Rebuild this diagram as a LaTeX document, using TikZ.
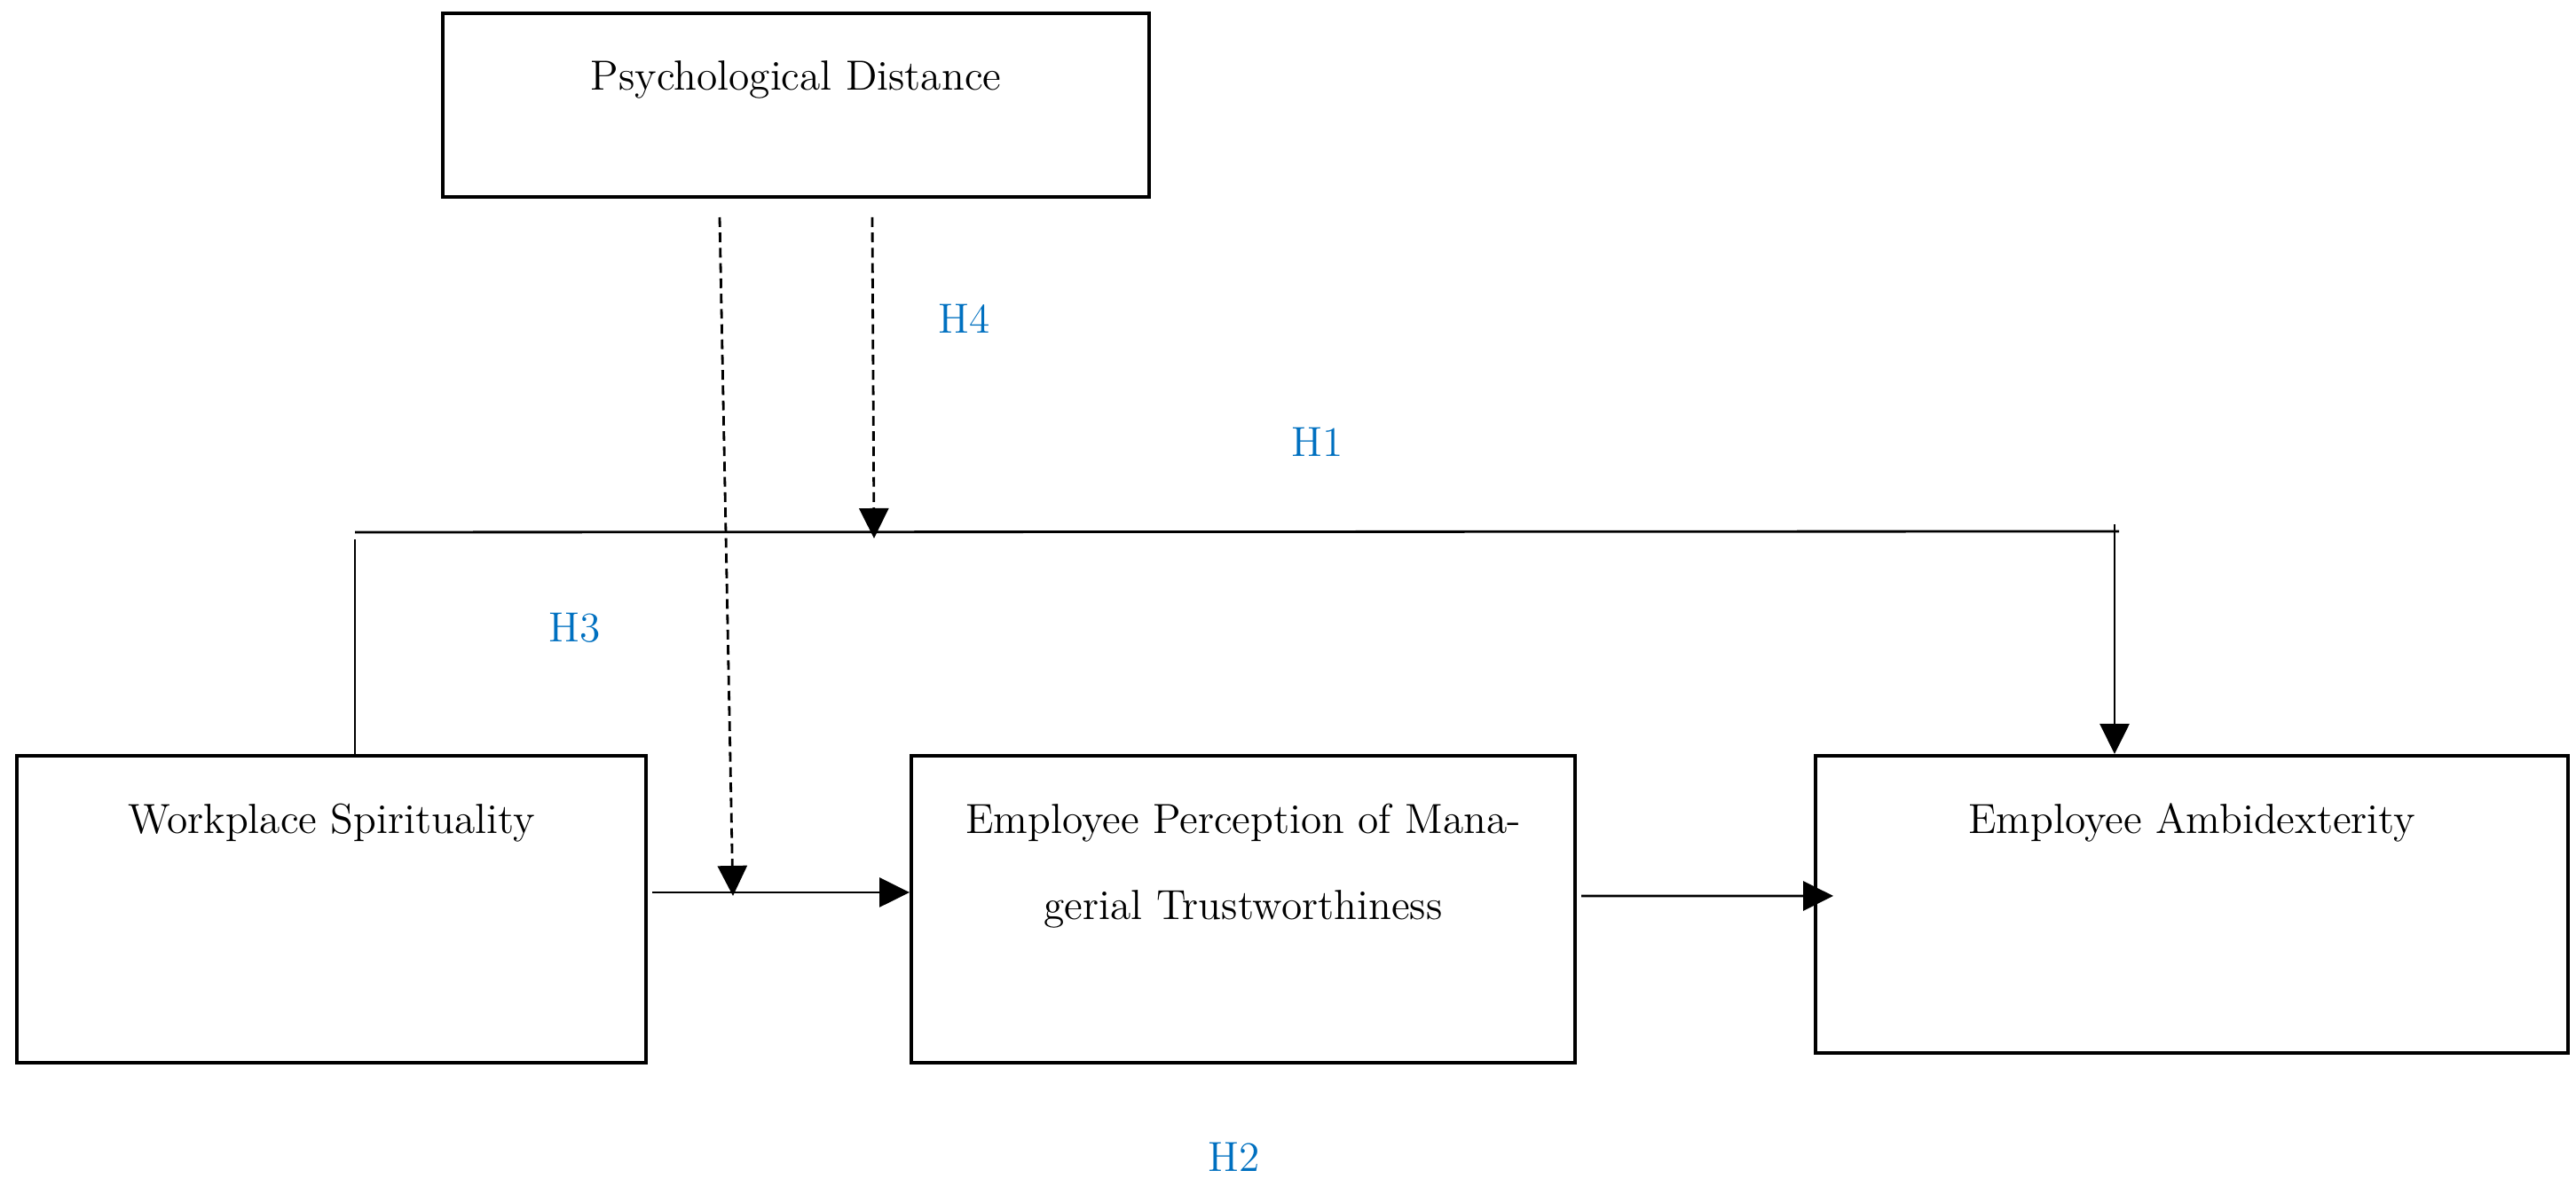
\documentclass[tikz,border=0pt]{standalone}
\definecolor{HypBlue}{RGB}{0,112,192}
\usepackage{tikz}
\usetikzlibrary{positioning,arrows.meta}
\tikzset{
  box/.style={draw=black,line width=1.15pt,minimum height=3.46cm,inner sep=0pt},
  boxtext/.style={anchor=north,inner sep=0pt,yshift=-0.55cm,align=center,font=\fontsize{13.5}{27.6}\selectfont},
  hyp/.style={text=HypBlue,inner sep=0pt,font=\fontsize{13.5}{16}\selectfont},
  conn/.style={line width=0.8pt},
  arrow/.style={-{Triangle[length=3.4mm,width=3.3mm]},line width=0.8pt},
  darrow/.style={arrow,dash pattern=on 3.1pt off 1.8pt},
}

\begin{document}
\begin{tikzpicture}
      \useasboundingbox (0,0) rectangle (29.03,13.55);
      \node[box,minimum width=7.96cm,minimum height=2.07cm,label={[boxtext]north:Psychological Distance}] (pd) at (8.97,12.365) {};
      \node[box,minimum width=7.09cm,label={[boxtext]north:Workplace Spirituality}] (ws) at (3.735,3.30) {};
      \node[box,minimum width=7.48cm,right=2.95cm of ws,label={[boxtext]north:Employee Perception of Mana-\\gerial Trustworthiness}] (epmt) {};
      \node[box,minimum width=8.48cm,minimum height=3.35cm,right=2.67cm of epmt.north east,anchor=north west,label={[boxtext]north:Employee Ambidexterity}] (ea) {};
      % direct path over the top
      \coordinate (h1l) at (4.00,7.55);
      \coordinate (h1r) at (23.83,7.56);
      \draw[conn] (ws.north -| h1l) -- ([yshift=-0.08cm]h1l);
      \draw[conn] (h1l) -- ([xshift=0.05cm]h1r);
      \draw[arrow] ([yshift=0.08cm]h1r) -- (ea.north -| h1r);
      % mediation
      \draw[arrow] ([xshift=0.05cm,yshift=0.19cm]ws.east) -- ([yshift=0.19cm]epmt.west);
      \draw[arrow] ([xshift=0.05cm,yshift=0.15cm]epmt.east) -- ([xshift=0.22cm,yshift=0.095cm]ea.west);
      % moderation
      \coordinate (m3) at (8.26,3.45);
      \coordinate (m4) at (9.85,7.48);
      \draw[darrow] ([xshift=-0.86cm,yshift=-0.21cm]pd.south) -- (m3);
      \draw[darrow] ([xshift=0.86cm,yshift=-0.21cm]pd.south) -- (m4);
      \node[hyp] (h1) at (14.85,8.57) {H1};
      \node[hyp] (h2) at (13.91,0.505) {H2};
      \node[hyp] (h3) at (6.48,6.47) {H3};
      \node[hyp] (h4) at (10.87,9.96) {H4};
\end{tikzpicture}
\end{document}
